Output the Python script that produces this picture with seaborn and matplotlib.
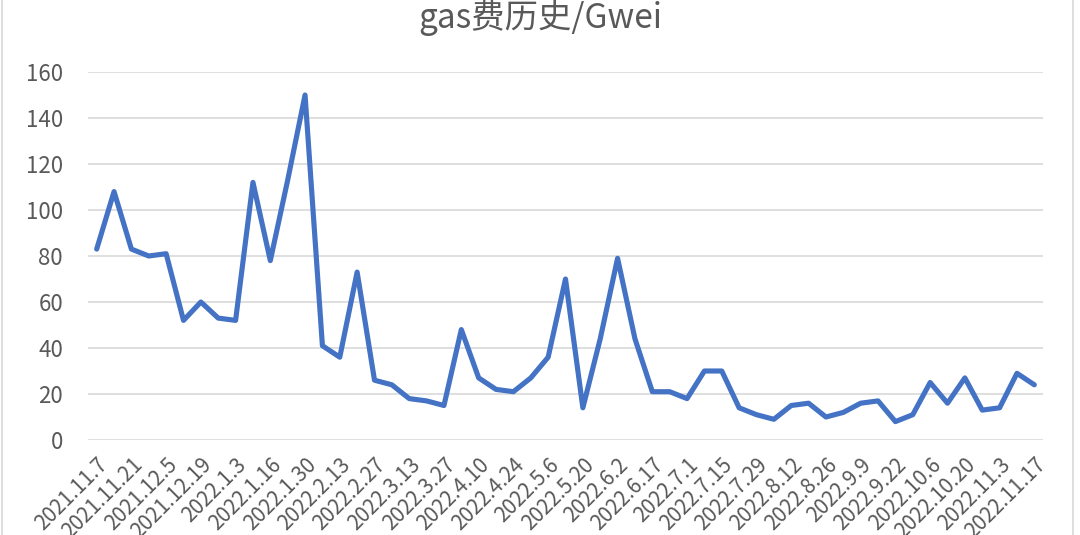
#!/usr/bin/env python3
"""Weekly gas fee history line chart (Gwei)."""

import matplotlib.pyplot as plt
import pandas as pd
import seaborn as sns
from matplotlib.lines import Line2D

TITLE = "gas费历史/Gwei"

# one label every other week (Excel category axis interval 2)
TICK_LABELS = [
    "2021.11.7", "2021.11.21", "2021.12.5", "2021.12.19", "2022.1.3",
    "2022.1.16", "2022.1.30", "2022.2.13", "2022.2.27", "2022.3.13",
    "2022.3.27", "2022.4.10", "2022.4.24", "2022.5.6", "2022.5.20",
    "2022.6.2", "2022.6.17", "2022.7.1", "2022.7.15", "2022.7.29",
    "2022.8.12", "2022.8.26", "2022.9.9", "2022.9.22", "2022.10.6",
    "2022.10.20", "2022.11.3", "2022.11.17",
]

GAS_GWEI = [
    83, 108, 83, 80, 81, 52, 60, 53, 52, 112,
    78, 113, 150, 41, 36, 73, 26, 24, 18, 17,
    15, 48, 27, 22, 21, 27, 36, 70, 14, 44,
    79, 44, 21, 21, 18, 30, 30, 14, 11, 9,
    15, 16, 10, 12, 16, 17, 8, 11, 25, 16,
    27, 13, 14, 29, 24,
]

Y_TICKS = [0, 20, 40, 60, 80, 100, 120, 140, 160]

LINE_COLOR = "#4472C4"
GRID_COLOR = "#d9d9d9"
TEXT_COLOR = "#595959"


def main() -> None:
    sns.set_theme(style="white")
    plt.rcParams["font.family"] = ["Noto Sans CJK SC", "DejaVu Sans"]

    df = pd.DataFrame({"week": range(len(GAS_GWEI)), "gas": GAS_GWEI})

    fig = plt.figure(figsize=(10.8, 5.35), dpi=100)
    ax = fig.add_axes([88 / 1080, 1 - 440 / 535, (1043 - 88) / 1080, (440 - 72) / 535])

    sns.lineplot(data=df, x="week", y="gas", color=LINE_COLOR, linewidth=3.7, ax=ax)

    ax.set_xlim(-0.5, len(GAS_GWEI) - 0.5)
    ax.set_ylim(0, 160)
    ax.set_yticks(Y_TICKS)
    ax.set_yticklabels([str(v) for v in Y_TICKS])
    ax.set_xticks(range(0, len(GAS_GWEI), 2))
    ax.set_xticklabels(TICK_LABELS, rotation=45, ha="right", rotation_mode="anchor")
    ax.tick_params(axis="both", length=0, colors=TEXT_COLOR)
    ax.tick_params(axis="y", pad=18, labelsize=16)
    ax.tick_params(axis="x", pad=10, labelsize=15)
    ax.set_xlabel("")
    ax.set_ylabel("")
    ax.grid(axis="y", color=GRID_COLOR, linewidth=1.2)
    ax.set_axisbelow(True)
    for spine in ax.spines.values():
        spine.set_visible(False)

    fig.text(0.5, 1 - 18 / 535, TITLE, ha="center", va="center",
             fontsize=24, color=TEXT_COLOR)

    # chart frame edges
    for xpix in (2, 1073):
        fig.add_artist(Line2D([xpix / 1080] * 2, [0, 1], color=GRID_COLOR, linewidth=1.2))

    fig.savefig("out.png", dpi=100)
    plt.close(fig)


if __name__ == "__main__":
    main()
